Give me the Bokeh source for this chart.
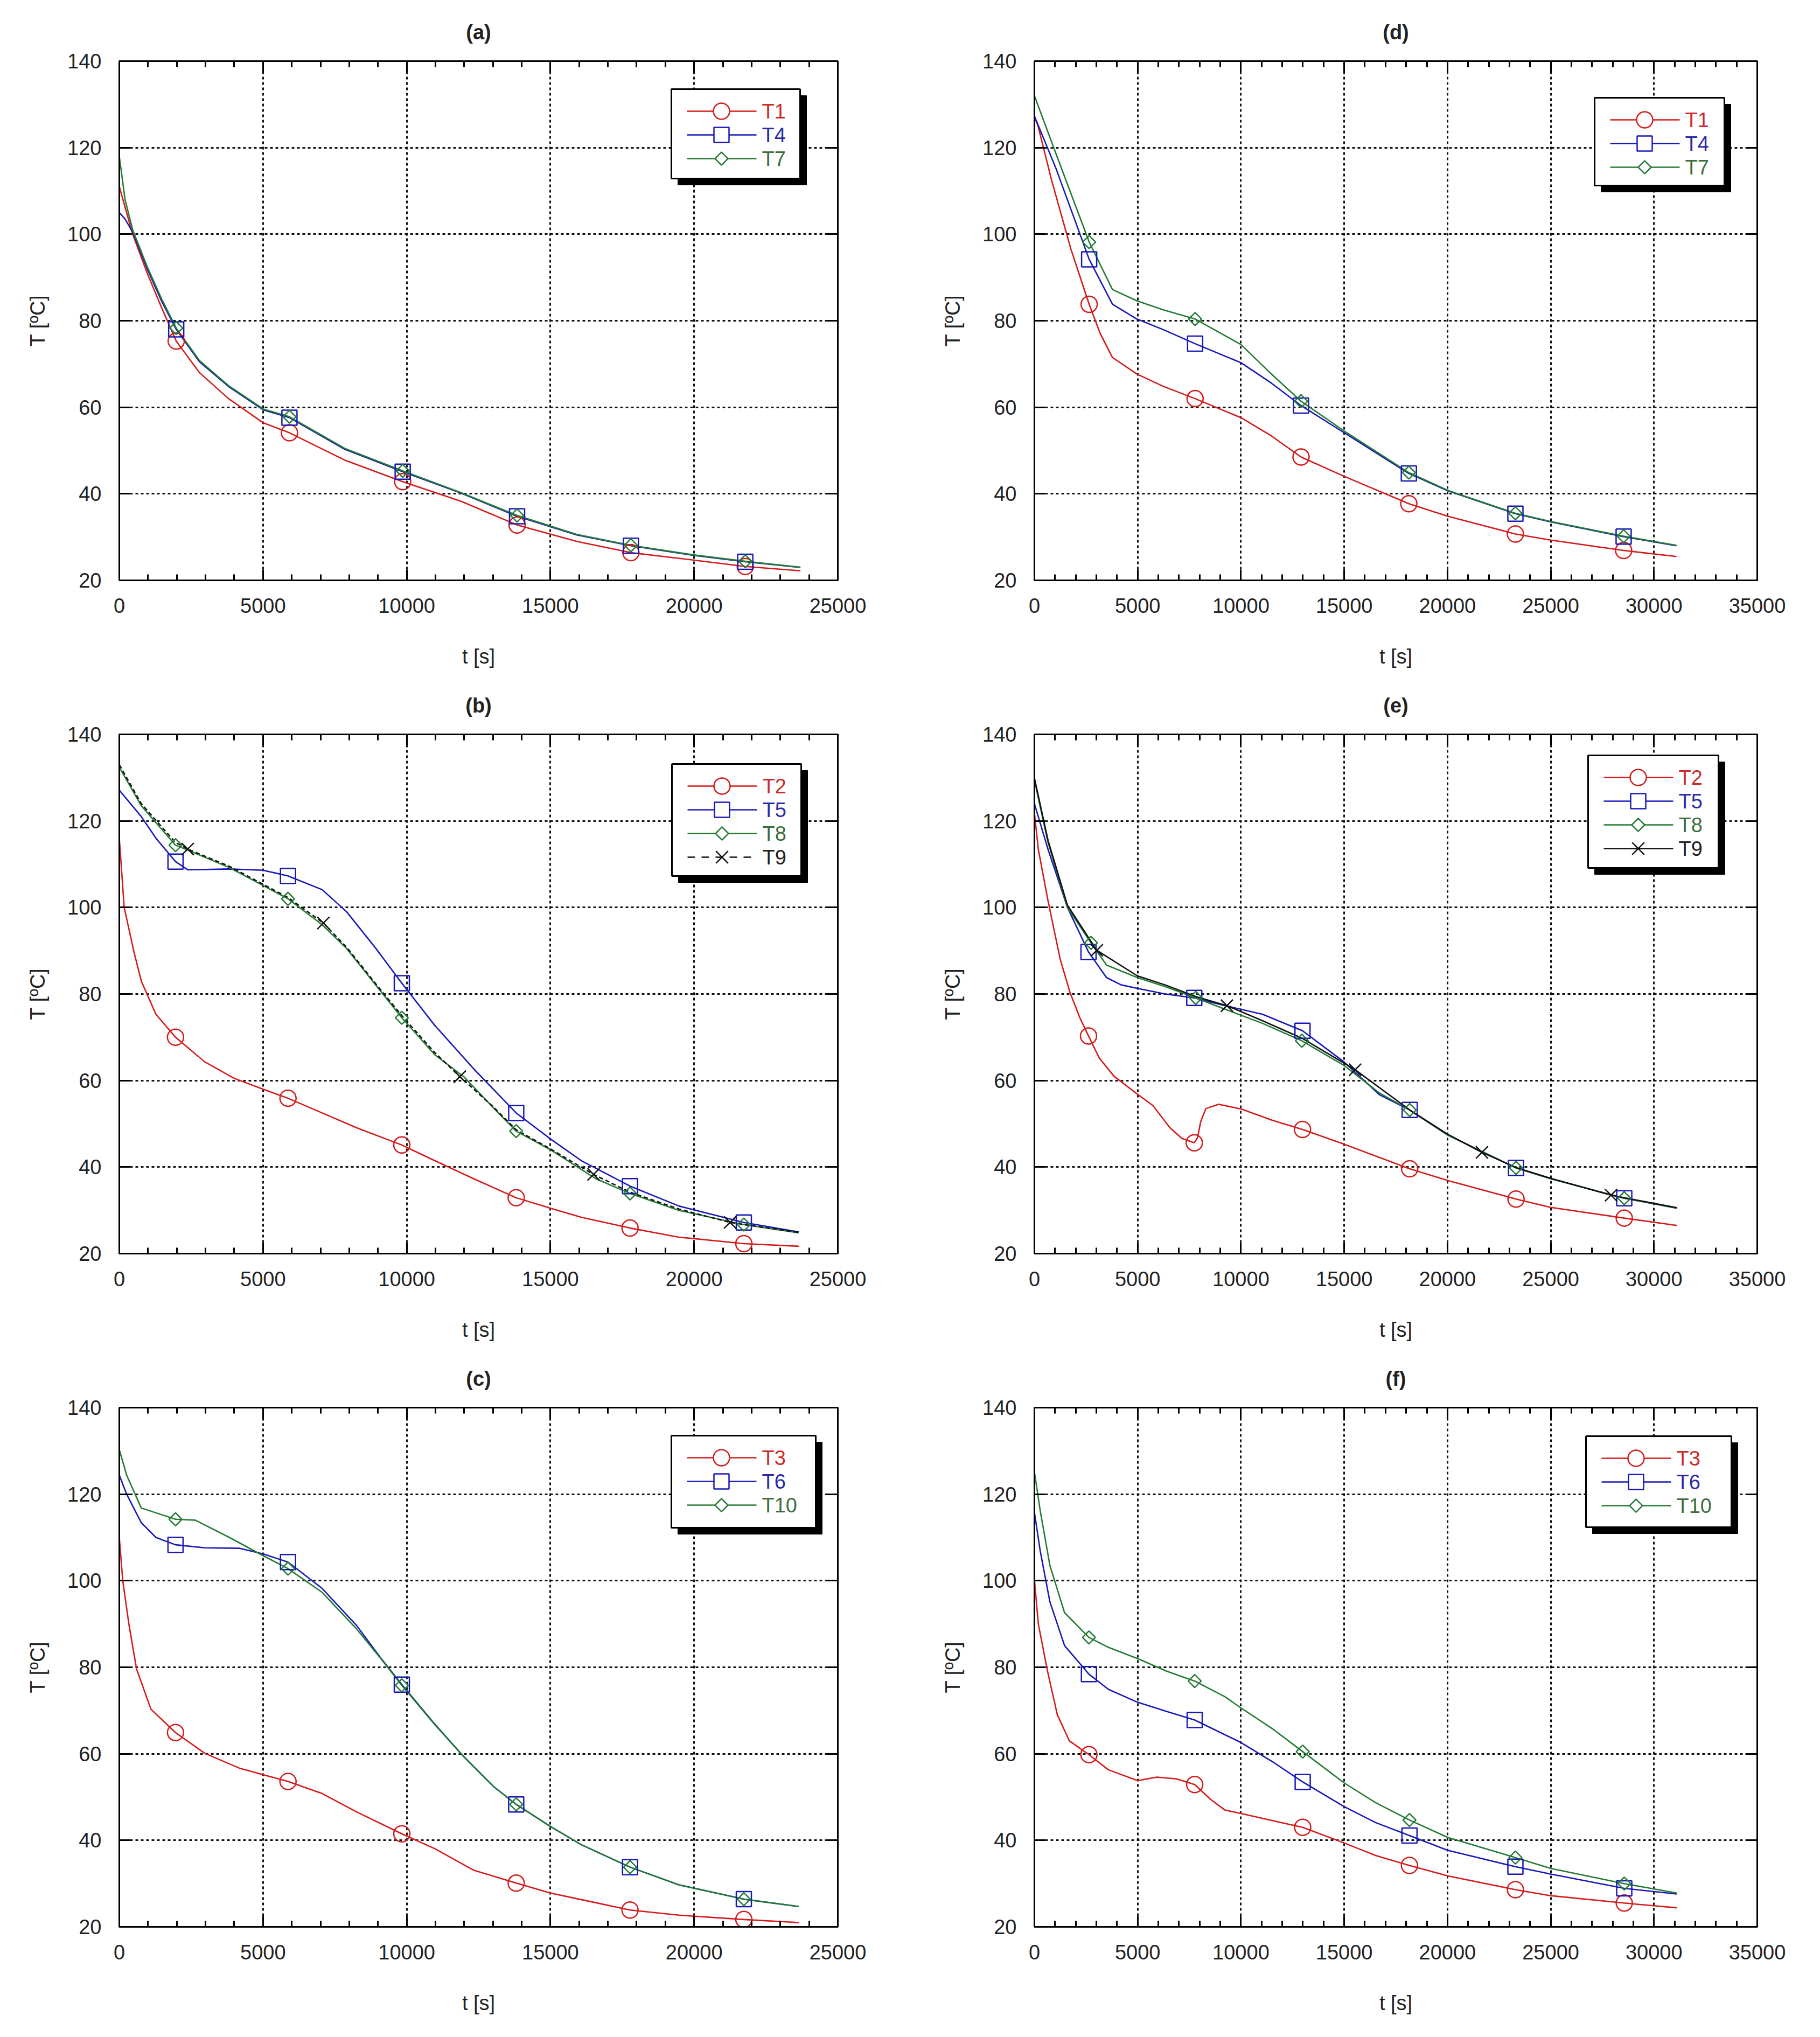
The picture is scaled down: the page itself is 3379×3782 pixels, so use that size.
import numpy as np
from bokeh.plotting import figure
from bokeh.models import Range1d, LinearAxis, SingleIntervalTicker
from bokeh.layouts import column, row
from bokeh.embed import file_html
from bokeh.resources import INLINE
from bokeh.core.properties import value

FONT = "Liberation Sans"
RED, BLUE, GREEN, BLACK = "#d41a1a", "#1818b8", "#237a33", "#111111"
TRED, TBLUE, TGREEN, TBLACK = "#cc2a2a", "#2a2aa8", "#3d6e3d", "#222222"

# ---------------- data ----------------
# panel (a)
a_T1_t = [0, 465, 970, 1475, 1980, 2790, 3800, 5010, 5920, 7840, 9860, 11880, 13840, 15920, 17800, 19960, 21780, 23700]
a_T1_v = [111, 100, 91, 83, 75.3, 68, 62, 56.4, 54.1, 47.8, 42.8, 38.3, 32.8, 29.0, 26.4, 24.7, 23.2, 22.2]
a_T4_t = [0, 200, 465, 970, 1475, 1980, 2790, 3800, 5010, 5920, 7840, 9860, 11880, 13840, 15920, 17800, 19960, 21780, 23700]
a_T4_v = [105, 103.5, 100.5, 92, 84.5, 78, 70.5, 64.8, 59.4, 57.6, 50.3, 45.1, 40.2, 34.8, 30.5, 28.0, 25.8, 24.3, 23.0]
a_T7_t = [0, 200, 465, 970, 1475, 1980, 2790, 3800, 5010, 5920, 7840, 9860, 11880, 13840, 15920, 17800, 19960, 21780, 23700]
a_T7_v = [118, 108, 101, 92.5, 85, 78.3, 70.8, 65.0, 59.6, 57.8, 50.5, 45.3, 40.3, 35.0, 30.6, 28.1, 25.9, 24.4, 23.0]
a_marks = [1980, 5920, 9860, 13840, 17800, 21780]

# panel (b)
b_T2_t = [0, 170, 510, 765, 1275, 1956, 2976, 4000, 5000, 5870, 7060, 8250, 9830, 10970, 12330, 13810, 15000, 16070, 17770, 19470, 21730, 23640]
b_T2_v = [116, 100, 89.7, 83, 75.3, 70.0, 64.3, 60.5, 58, 55.9, 52.5, 49.1, 45.1, 41.5, 37.3, 32.9, 30.5, 28.4, 25.9, 23.8, 22.3, 21.7]
b_T5_t = [0, 765, 1275, 1956, 2380, 3830, 5000, 5870, 7060, 7910, 8930, 9830, 10970, 12330, 13810, 15000, 16070, 17770, 19470, 21730, 23640]
b_T5_v = [127.1, 121, 116, 110.6, 108.7, 108.9, 108.6, 107.3, 104.1, 99, 90.5, 82.5, 72.8, 62.7, 52.5, 46.5, 41.5, 35.6, 31, 27.2, 25.0]
b_T8_t = [0, 765, 1956, 2470, 3830, 5870, 7060, 7910, 8930, 9830, 10970, 12000, 13000, 13810, 15000, 16580, 17770, 19470, 21730, 23640]
b_T8_v = [132.4, 123.5, 114.4, 113, 109.2, 102, 96, 90.5, 82, 74.5, 66, 60.8, 53.8, 48.3, 44, 37.3, 33.9, 30, 26.7, 24.8]
b_T9_t = [0, 765, 1956, 2380, 3830, 5870, 7100, 7910, 8930, 9830, 10970, 11850, 13000, 13810, 15000, 16500, 17770, 19470, 21250, 23640]
b_T9_v = [133, 124, 115, 113.5, 109.5, 102.3, 96.4, 90.8, 82.3, 75, 66.5, 60.9, 54, 48.6, 44.2, 38.3, 34.2, 30.3, 27.2, 24.9]
b_marks = [1956, 5870, 9830, 13810, 17770, 21730]
b_T9_marks = [2380, 7100, 11850, 16500, 21250]

# panel (c)
c_T3_t = [0, 120, 340, 600, 1100, 1956, 2976, 4170, 5870, 7060, 8250, 9830, 10970, 12330, 13810, 15000, 16070, 17770, 19470, 21730, 23640]
c_T3_v = [110, 100, 89.7, 79.6, 70.3, 64.9, 60.1, 56.7, 53.6, 50.8, 46.6, 41.5, 38.1, 33.1, 30.1, 27.8, 26.3, 23.9, 22.7, 21.7, 21.0]
c_T6_t = [0, 255, 765, 1275, 1956, 2976, 4170, 5000, 5870, 7060, 8250, 9100, 9830, 10970, 11990, 13010, 13810, 15000, 16070, 17770, 19470, 21730, 23640]
c_T6_v = [124.4, 120, 113.4, 110, 108.3, 107.6, 107.5, 106.2, 104.3, 98.2, 89.7, 82.1, 76, 66.9, 59.3, 52.5, 48.3, 43.2, 39, 33.8, 29.7, 26.4, 24.7]
c_T10_t = [0, 255, 765, 1956, 2640, 3830, 5000, 5870, 7060, 8250, 9100, 9830, 10970, 11990, 13010, 13810, 15000, 16070, 17770, 19470, 21730, 23640]
c_T10_v = [130.3, 124.4, 116.8, 114.2, 114, 110, 105.8, 102.8, 97.3, 88.9, 82.0, 75.8, 66.8, 59.3, 52.5, 48.3, 43.2, 39, 33.8, 29.7, 26.4, 24.7]
c_marks = [1956, 5870, 9830, 13810, 17770, 21730]

# panel (d)
d_T1_t = [0, 165, 830, 1770, 2650, 3190, 3780, 4960, 6260, 7780, 10000, 11470, 12910, 14970, 18130, 20020, 23290, 25000, 28530, 31090]
d_T1_v = [127, 125.2, 112.5, 96.5, 83.8, 77, 71.5, 67.7, 64.8, 62, 57.6, 53.4, 48.5, 44.1, 37.7, 34.8, 30.7, 29.3, 26.9, 25.5]
d_T4_t = [0, 1060, 2650, 3780, 4960, 6260, 7780, 10000, 11470, 12910, 14970, 18130, 20020, 23290, 25000, 28530, 31090]
d_T4_v = [127.3, 115, 94.2, 83.8, 80.4, 77.9, 74.7, 70.3, 65.6, 60.4, 54.2, 44.7, 40.7, 35.4, 33.5, 30.1, 28.0]
d_T7_t = [0, 1060, 2650, 3780, 4960, 6260, 7780, 10000, 11470, 12910, 14970, 18130, 20020, 23290, 25000, 28530, 31090]
d_T7_v = [132, 118.4, 98.2, 87.2, 84.6, 82.5, 80.4, 74.5, 67.7, 61.4, 54.6, 44.9, 40.8, 35.5, 33.6, 30.2, 28.1]
d_marks = [2650, 7780, 12910, 18130, 23290, 28530]

# panel (e)
e_T2_t = [0, 190, 660, 1250, 1720, 2200, 2620, 3140, 3850, 5030, 5740, 6560, 7150, 7740, 7900, 8050, 8300, 8920, 10030, 11520, 12980, 14990, 18170, 20010, 23320, 24970, 28560, 31110]
e_T2_v = [121.8, 113.4, 101.5, 88, 80.4, 74.5, 70.3, 65.2, 61, 56.7, 54.2, 49.1, 46.6, 45.6, 46.8, 50.5, 53.5, 54.5, 53.4, 50.8, 48.7, 45.3, 39.6, 36.9, 32.6, 30.7, 28.2, 26.5]
e_T5_t = [0, 660, 1600, 2620, 3490, 4200, 4980, 6330, 7740, 9160, 11050, 12980, 14990, 16710, 18170, 20010, 23320, 25000, 28560, 31110]
e_T5_v = [124, 113.4, 100, 89.7, 83.8, 82.1, 81.3, 80.0, 79.1, 77.4, 75.3, 71.5, 64.3, 56.7, 53.2, 47.4, 39.8, 37.3, 32.8, 30.5]
e_T8_t = [0, 660, 1600, 2740, 3490, 4980, 6330, 7810, 9160, 11050, 12950, 14990, 16710, 18170, 20010, 23320, 25000, 28560, 31110]
e_T8_v = [129.4, 115, 100, 91.8, 86.7, 83.8, 81.7, 79.1, 76.6, 73.2, 69.2, 63.5, 57.1, 53.2, 47.4, 39.8, 37.3, 32.8, 30.5]
e_T9_t = [0, 660, 1600, 3020, 4980, 6330, 7810, 9320, 11050, 12950, 15530, 18170, 20010, 21670, 23320, 25000, 27920, 31110]
e_T9_v = [129.9, 115.5, 100.5, 90.1, 84.2, 82.1, 79.4, 77.3, 73.8, 69.8, 62.5, 53.2, 47.6, 43.4, 39.9, 37.4, 33.5, 30.6]
e_marks = [2620, 7740, 12980, 18170, 23320, 28560]
e_T8_marks = [2740, 7810, 12950, 18170, 23320, 28560]
e_T9_marks = [3020, 9320, 15530, 21670, 27920]

# panel (f)
f_T3_t = [0, 190, 635, 1110, 1690, 2640, 3580, 5000, 5930, 6870, 7760, 8520, 9220, 10000, 11580, 12990, 14990, 16520, 18160, 20000, 23290, 25000, 28560, 31100]
f_T3_v = [100.2, 90, 79.1, 69, 63, 59.8, 56.3, 53.8, 54.6, 54.2, 52.9, 49.5, 47, 46.2, 44.5, 43, 39.4, 36.5, 34.2, 31.8, 28.6, 27.2, 25.5, 24.4]
f_T6_t = [0, 280, 750, 1460, 2640, 3580, 5000, 6400, 7760, 10000, 11580, 12990, 14990, 16520, 18160, 20000, 23290, 25000, 28560, 31100]
f_T6_v = [115.8, 106.9, 95.1, 85, 78.4, 74.9, 71.9, 69.8, 67.8, 62.6, 58, 53.5, 47.8, 44.1, 41.1, 37.7, 33.9, 32.2, 28.9, 27.6]
f_T10_t = [0, 280, 750, 1460, 2640, 3580, 5000, 6400, 7760, 9220, 10000, 11580, 12990, 14990, 16520, 18160, 20000, 23290, 25000, 28560, 31100]
f_T10_v = [125.1, 116.2, 103.5, 92.6, 86.9, 84.6, 82, 79.1, 76.8, 73.2, 70.6, 65.6, 60.5, 53.3, 48.7, 44.7, 40.7, 36, 33.5, 30, 27.8]
f_marks = [2640, 7760, 12990, 18160, 23290, 28560]

X_TICK_STEP = 5000
Y_MIN, Y_MAX, Y_TICK_STEP = 20, 140, 20

# ---------------- layout constants ----------------
ROW_H = 1250
BT, BB = 113, 173
FH = ROW_H - BT - BB
COLS = {1: dict(width=1690, bl=221, br=135), 2: dict(width=1673, bl=230, br=101)}

MARKERS = {
    "circle": dict(marker="circle", size=30, angle=0.0),
    "square": dict(marker="square", size=28, angle=0.0),
    "diamond": dict(marker="square", size=17, angle=np.pi / 4),
    "x": dict(marker="x", size=32, angle=0.0),
}


def S(label, t, v, color, tcolor, marker, marks, dash="solid", ldash=None):
    return dict(label=label, t=t, v=v, color=color, tcolor=tcolor, marker=marker,
                marks=marks, dash=dash, ldash=ldash if ldash else dash)


def style_axis(ax):
    ax.axis_line_width = 3
    ax.axis_line_color = "black"
    ax.major_tick_line_width = 3
    ax.major_tick_line_color = "black"
    ax.minor_tick_line_width = 3
    ax.minor_tick_line_color = "black"
    ax.major_tick_in = 20
    ax.major_tick_out = 0
    ax.minor_tick_in = 11
    ax.minor_tick_out = 0
    ax.major_label_text_font = FONT
    ax.major_label_text_font_size = "38px"
    ax.major_label_text_color = "#222222"
    ax.axis_label_text_font = FONT
    ax.axis_label_text_font_size = "38px"
    ax.axis_label_text_font_style = "normal"
    ax.axis_label_text_color = "#222222"


def make_panel(title, xmax, col, series, box):
    c = COLS[col]
    FW = c["width"] - c["bl"] - c["br"]
    p = figure(width=c["width"], height=ROW_H, output_backend="svg", toolbar_location=None,
               x_range=Range1d(0, xmax), y_range=Range1d(Y_MIN, Y_MAX),
               min_border_left=c["bl"], min_border_right=c["br"],
               min_border_top=BT, min_border_bottom=BB,
               title=title, background_fill_color="white", border_fill_color="white")
    bottom = p.below[0]
    left = p.left[0]
    p.title.align = "center"
    p.title.text_font = FONT
    p.title.text_font_size = "38px"
    p.title.text_font_style = "bold"
    p.title.text_color = "#222222"
    p.title.standoff = 66
    p.outline_line_color = "black"
    p.outline_line_width = 3

    xt = SingleIntervalTicker(interval=X_TICK_STEP, num_minor_ticks=5)
    yt = SingleIntervalTicker(interval=Y_TICK_STEP, num_minor_ticks=0)
    bottom.ticker = xt
    left.ticker = yt
    p.xgrid.ticker = xt
    p.ygrid.ticker = yt
    for g in (p.xgrid[0], p.ygrid[0]):
        g.grid_line_color = "#111111"
        g.grid_line_width = 3
        g.grid_line_dash = "5 5"

    top = LinearAxis(ticker=xt)
    right = LinearAxis(ticker=yt)
    p.add_layout(top, "above")
    p.add_layout(right, "right")

    for ax in (bottom, left, top, right):
        style_axis(ax)
    for ax in (top, right):
        ax.major_label_text_color = None
        ax.major_label_text_font_size = "12px"
        ax.major_label_standoff = 0
    for ax in (left, right):
        ax.minor_tick_line_color = None

    bottom.axis_label = "t [s]"
    bottom.major_label_standoff = 33
    bottom.axis_label_standoff = 57
    left.axis_label = "T [ºC]"
    left.major_label_standoff = 33
    left.axis_label_standoff = 31

    # curves and markers
    for s in series:
        p.line(s["t"], s["v"], line_color=s["color"], line_width=2.6, line_dash=s["dash"])
    for s in series:
        mk = MARKERS[s["marker"]]
        mt = [t for t in s["t"] if t in s["marks"]]
        mv = [v for t, v in zip(s["t"], s["v"]) if t in s["marks"]]
        p.scatter(mt, mv, marker=mk["marker"], size=mk["size"], angle=mk["angle"],
                  fill_color=None, line_color=s["color"], line_width=2.5)

    # legend box drawn in data space (fixed ranges), with shadow
    dxp = xmax / FW
    dyp = (Y_MAX - Y_MIN) / FH
    X = lambda px: px * dxp
    Y = lambda py: Y_MAX - py * dyp
    bl, bt, bw, bh = box
    sh = 12
    p.quad(left=[X(bl + sh)], right=[X(bl + bw + sh)], top=[Y(bt + sh)], bottom=[Y(bt + bh + sh)],
           fill_color="black", line_color="black")
    p.quad(left=[X(bl)], right=[X(bl + bw)], top=[Y(bt)], bottom=[Y(bt + bh)],
           fill_color="white", line_color="black", line_width=3)
    for i, s in enumerate(series):
        cy = Y(bt + 41 + 44 * i)
        p.line([X(bl + 29), X(bl + 158)], [cy, cy], line_color=s["color"], line_width=2.6,
               line_dash=s["ldash"])
        mk = MARKERS[s["marker"]]
        p.scatter([X(bl + 93)], [cy], marker=mk["marker"], size=mk["size"], angle=mk["angle"],
                  fill_color="white" if s["marker"] != "x" else None,
                  line_color=s["color"], line_width=2.5)
        p.text([X(bl + 168)], [cy], text=[s["label"]], text_font=value(FONT),
               text_font_size=value("38px"), text_baseline="middle", text_align="left",
               text_color=s["tcolor"])
    return p


pa = make_panel("(a)", 25000, 1, [
    S("T1", a_T1_t, a_T1_v, RED, TRED, "circle", a_marks),
    S("T4", a_T4_t, a_T4_v, BLUE, TBLUE, "square", a_marks),
    S("T7", a_T7_t, a_T7_v, GREEN, TGREEN, "diamond", a_marks),
], (1025, 52, 239, 166))

pb = make_panel("(b)", 25000, 1, [
    S("T2", b_T2_t, b_T2_v, RED, TRED, "circle", b_marks),
    S("T5", b_T5_t, b_T5_v, BLUE, TBLUE, "square", b_marks),
    S("T8", b_T8_t, b_T8_v, GREEN, TGREEN, "diamond", b_marks),
    S("T9", b_T9_t, b_T9_v, BLACK, TBLACK, "x", b_T9_marks, dash="8 5", ldash="14 12"),
], (1026, 55, 240, 208))

pc = make_panel("(c)", 25000, 1, [
    S("T3", c_T3_t, c_T3_v, RED, TRED, "circle", c_marks),
    S("T6", c_T6_t, c_T6_v, BLUE, TBLUE, "square", c_marks),
    S("T10", c_T10_t, c_T10_v, GREEN, TGREEN, "diamond", c_marks),
], (1025, 52, 268, 171))

pd_ = make_panel("(d)", 35000, 2, [
    S("T1", d_T1_t, d_T1_v, RED, TRED, "circle", d_marks),
    S("T4", d_T4_t, d_T4_v, BLUE, TBLUE, "square", d_marks),
    S("T7", d_T7_t, d_T7_v, GREEN, TGREEN, "diamond", d_marks),
], (1040, 68, 241, 163))

pe = make_panel("(e)", 35000, 2, [
    S("T2", e_T2_t, e_T2_v, RED, TRED, "circle", e_marks),
    S("T5", e_T5_t, e_T5_v, BLUE, TBLUE, "square", e_marks),
    S("T8", e_T8_t, e_T8_v, GREEN, TGREEN, "diamond", e_T8_marks),
    S("T9", e_T9_t, e_T9_v, BLACK, TBLACK, "x", e_T9_marks),
], (1028, 39, 242, 209))

pf = make_panel("(f)", 35000, 2, [
    S("T3", f_T3_t, f_T3_v, RED, TRED, "circle", f_marks),
    S("T6", f_T6_t, f_T6_v, BLUE, TBLUE, "square", f_marks),
    S("T10", f_T10_t, f_T10_v, GREEN, TGREEN, "diamond", f_marks),
], (1024, 53, 270, 169))

layout = column(row(pa, pd_), row(pb, pe), row(pc, pf))
open("out.html", "w").write(file_html(layout, INLINE))
